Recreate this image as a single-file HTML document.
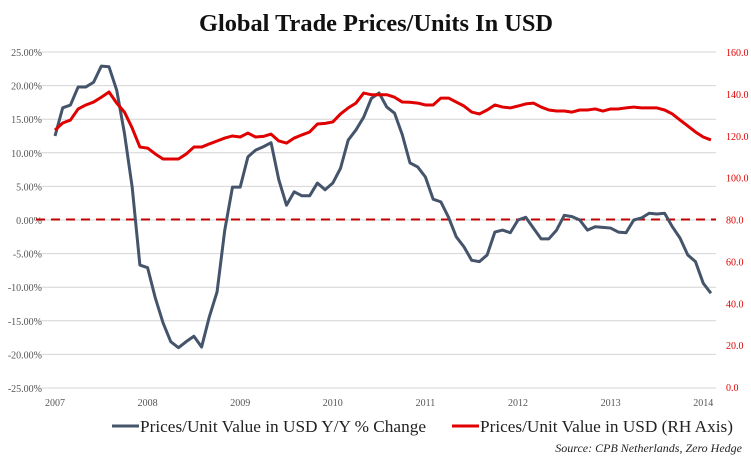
<!DOCTYPE html>
<html><head><meta charset="utf-8"><style>
html,body{margin:0;padding:0;background:#fff;}
svg{display:block;}
text{font-family:"Liberation Serif",serif;}
</style></head><body>
<svg id="chart" width="751" height="462" viewBox="0 0 751 462">
<text x="376" y="31" text-anchor="middle" font-size="24" font-weight="bold" fill="#111" textLength="354" lengthAdjust="spacingAndGlyphs">Global Trade Prices/Units In USD</text>
<g id="grid"></g>
<g id="lticks"></g>
<g id="rticks"></g>
<g id="xticks"></g>
<g id="series"></g>
<g>
<g>
<line x1="112" y1="426" x2="139" y2="426" stroke="#44546a" stroke-width="3"/>
<text x="140" y="432" font-size="17" fill="#222" textLength="286" lengthAdjust="spacingAndGlyphs">Prices/Unit Value in USD Y/Y % Change</text></g>
<g>
<line x1="452" y1="426" x2="479" y2="426" stroke="#e00000" stroke-width="3"/>
<text x="480" y="432" font-size="17" fill="#222" textLength="253" lengthAdjust="spacingAndGlyphs">Prices/Unit Value in USD (RH Axis)</text></g>
</g>
<text x="742" y="452" text-anchor="end" font-size="12" font-style="italic" fill="#222">Source: CPB Netherlands, Zero Hedge</text>
</svg>
<script>
const yoy=[12.5,16.7,17.1,19.8,19.8,20.5,22.9,22.8,19.3,12.9,4.9,-6.7,-7.1,-11.6,-15.3,-18.1,-19.0,-18.1,-17.3,-18.9,-14.4,-10.7,-1.5,4.9,4.9,9.4,10.4,10.9,11.5,6.0,2.2,4.2,3.6,3.6,5.5,4.5,5.5,7.7,11.9,13.4,15.3,18.1,18.9,16.8,15.9,12.7,8.5,7.9,6.4,3.1,2.7,0.4,-2.5,-4.0,-6.0,-6.2,-5.2,-1.8,-1.5,-1.9,0,0.4,-1.2,-2.8,-2.8,-1.5,0.7,0.5,0,-1.5,-1.0,-1.1,-1.2,-1.8,-1.9,0,0.3,1.0,0.9,1.0,-1.0,-2.7,-5.2,-6.2,-9.4,-10.9];
const value=[122.7,126.1,127.5,132.8,134.7,136.1,138.4,140.9,135.6,131.3,123.7,114.6,114.1,111.3,108.9,108.9,108.9,111.3,114.6,114.6,116.1,117.5,118.9,119.9,119.4,121.3,119.4,119.7,120.8,117.5,116.5,118.9,120.4,121.8,125.6,125.9,126.6,130.4,133.3,135.6,140.4,139.6,139.6,139.6,138.4,136.1,136,135.6,134.7,134.7,138,138,136.1,134.2,131.3,130.4,132.3,134.7,133.7,133.3,134.2,135.2,135.6,133.7,132.3,131.8,131.8,131.3,132.3,132.3,132.8,131.8,132.8,132.8,133.3,133.7,133.3,133.3,133.3,132.3,130.4,127.5,124.7,121.8,119.4,118.0];
const leftTicks=["25.00%","20.00%","15.00%","10.00%","5.00%","0.00%","-5.00%","-10.00%","-15.00%","-20.00%","-25.00%"];
const leftVals=[25,20,15,10,5,0,-5,-10,-15,-20,-25];
const rightTicks=["160.0","140.0","120.0","100.0","80.0","60.0","40.0","20.0","0.0"];
const rightVals=[160,140,120,100,80,60,40,20,0];
const years=["2007","2008","2009","2010","2011","2012","2013","2014"];
const NS="http://www.w3.org/2000/svg";
const yL=v=>220-(v)*6.72;
const yR=v=>387-v*335/160;
const xM=i=>55+i*92.6/12;
function mk(tag,attrs,parent){const e=document.createElementNS(NS,tag);for(const k in attrs)e.setAttribute(k,attrs[k]);parent.appendChild(e);return e;}
const grid=document.getElementById('grid'),lt=document.getElementById('lticks'),rt=document.getElementById('rticks'),xt=document.getElementById('xticks'),ser=document.getElementById('series');
leftVals.forEach((v,i)=>{
 const g=mk('line',{x1:36,x2:716,y1:yL(v),y2:yL(v),stroke:'#d4d4d4','stroke-width':1},grid);
 
 
 const t=mk('text',{x:42,y:yL(v)+4,'text-anchor':'end','font-size':10,fill:'#555'},lt);
 t.textContent=leftTicks[i];
 
 
});
rightVals.forEach((v,i)=>{
 const t=mk('text',{x:726,y:yR(v)+4,'font-size':10,fill:'#e00000'},rt);
 t.textContent=rightTicks[i];
 
 
});
years.forEach((y,i)=>{
 const t=mk('text',{x:xM(i*12),y:406,'text-anchor':'middle','font-size':10,fill:'#555'},xt);
 t.textContent=y;
 
 
});
const zl=mk('line',{x1:36,x2:716,y1:yR(80),y2:yR(80),stroke:'#c00000','stroke-width':2,'stroke-dasharray':'9,6'},ser);


const p1=mk('polyline',{points:yoy.map((v,i)=>xM(i)+','+yL(v)).join(' '),fill:'none',stroke:'#44546a','stroke-width':3,'stroke-linejoin':'round'},ser);


const p2=mk('polyline',{points:value.map((v,i)=>xM(i)+','+yR(v)).join(' '),fill:'none',stroke:'#e00000','stroke-width':3,'stroke-linejoin':'round'},ser);


</script>
</body></html>
